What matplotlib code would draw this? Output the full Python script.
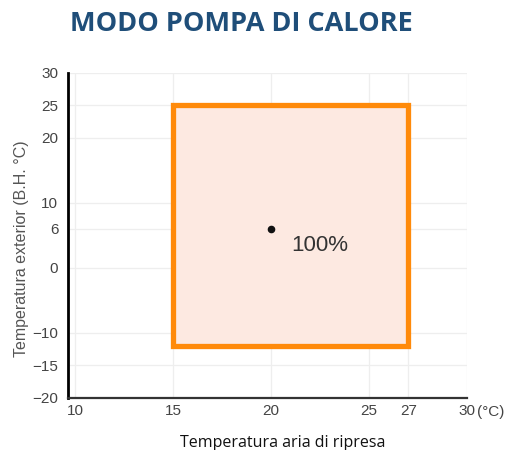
import matplotlib.pyplot as plt
from matplotlib.patches import Rectangle

# data
x_ticks = [10, 15, 20, 25, 27, 30]
y_ticks = [-20, -15, -10, 0, 6, 10, 20, 25, 30]
zone_x = [15, 27]
zone_y = [-12, 25]
point_x = [20]
point_y = [6]
point_label = "100%"

fig = plt.figure(figsize=(5.13, 4.5), dpi=100)
ax = fig.add_axes([0.1326, 0.1156, 0.7778, 0.7222])

ax.set_xlim(9.64, 30)
ax.set_ylim(-20, 30)
ax.set_xticks(x_ticks)
ax.set_yticks(y_ticks)
ax.tick_params(length=0, labelsize=11, labelcolor='#444444')
ax.tick_params(axis='x', pad=4)
ax.tick_params(axis='y', pad=7)
for lab in ax.get_xticklabels() + ax.get_yticklabels():
    lab.set_family('Liberation Sans')

ax.grid(True, color='#eeeeee', linewidth=0.9)
ax.set_axisbelow(True)
for s in ['top', 'right']:
    ax.spines[s].set_visible(False)
ax.spines['left'].set_linewidth(2)
ax.spines['bottom'].set_linewidth(1.6)
ax.spines['bottom'].set_color('#333333')

rect = Rectangle((zone_x[0], zone_y[0]), zone_x[1] - zone_x[0], zone_y[1] - zone_y[0],
                 facecolor='#fde9e1', edgecolor='#ff8a0a', linewidth=3.8, zorder=3)
ax.add_patch(rect)

ax.scatter(point_x, point_y, s=20, color='#111111', zorder=4)
ax.text(point_x[0] + 1.05, point_y[0] - 2.5, point_label, fontsize=16, color='#333333',
        family='Liberation Sans', va='center', ha='left', zorder=5)

ax.annotate('(°C)', xy=(30, 0), xycoords=('data', 'axes fraction'),
            xytext=(7.5, -10), textcoords='offset points', ha='left', va='center',
            fontsize=11, color='#444444', family='Liberation Sans')

ax.set_ylabel('Temperatura exterior (B.H. °C)', fontsize=11.5, color='#555555',
              family='Liberation Sans')
ax.yaxis.set_label_coords(-0.097, 0.46)

fig.text(0.552, 0.016, 'Temperatura aria di ripresa', ha='center', va='center',
         fontsize=11.5, color='#111111', family='Open Sans')

fig.text(0.47, 0.947, 'MODO POMPA DI CALORE', ha='center', va='center',
         fontsize=19.5, fontweight='bold', color='#1f4e79', family='Open Sans')

fig.savefig('out.png', dpi=100)
